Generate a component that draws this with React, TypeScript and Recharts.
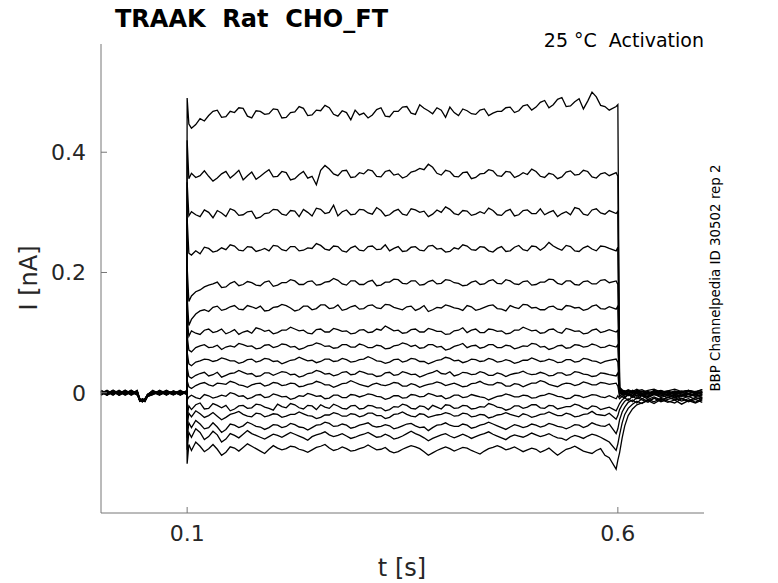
import { Line, LineChart, XAxis, YAxis } from "recharts";

// sample times (s) for each segment of the sweep
const preTimes = [0, 0.007, 0.014, 0.021, 0.028, 0.035, 0.042, 0.045, 0.048, 0.051, 0.054, 0.06, 0.068, 0.076, 0.084, 0.092, 0.0995];
const onTimes = [0.1, 0.102];
const stepTimes = [
  0.11, 0.12, 0.13, 0.14, 0.15, 0.16, 0.17, 0.18, 0.19, 0.2,
  0.21, 0.22, 0.23, 0.24, 0.25, 0.26, 0.27, 0.28, 0.29, 0.3,
  0.31, 0.32, 0.33, 0.34, 0.35, 0.36, 0.37, 0.38, 0.39, 0.4,
  0.41, 0.42, 0.43, 0.44, 0.45, 0.46, 0.47, 0.48, 0.49, 0.5,
  0.51, 0.52, 0.53, 0.54, 0.55, 0.56, 0.57, 0.58, 0.59,
];
const midTimes = [
  0.105, 0.115, 0.125, 0.135, 0.145, 0.155, 0.165, 0.175, 0.185, 0.195,
  0.205, 0.215, 0.225, 0.235, 0.245, 0.255, 0.265, 0.275, 0.285, 0.295,
  0.305, 0.315, 0.325, 0.335, 0.345, 0.355, 0.365, 0.375, 0.385, 0.395,
  0.405, 0.415, 0.425, 0.435, 0.445, 0.455, 0.465, 0.475, 0.485, 0.495,
  0.505, 0.515, 0.525, 0.535, 0.545, 0.555, 0.565, 0.575, 0.585,
];
const offTimes = [0.598, 0.6];
const postTimes = [0.602, 0.605, 0.608, 0.612, 0.617, 0.622, 0.628, 0.635, 0.642, 0.65, 0.658, 0.666, 0.674, 0.682, 0.69, 0.698];

const xTicks = [0.1, 0.6];
const yTicks = [0, 0.2, 0.4];

// current (nA) per sweep, top to bottom
const pre1 = [0.003, -0.002, 0.004, -0.001, 0.003, -0.003, 0.002, -0.011, -0.014, -0.012, -0.004, 0.002, -0.002, 0.003, -0.001, 0.002, 0.0];
const on1 = [0.49, 0.447];
const step1 = [
  0.446, 0.452, 0.468, 0.458, 0.468, 0.474, 0.46, 0.469, 0.463, 0.472,
  0.457, 0.466, 0.476, 0.461, 0.47, 0.478, 0.463, 0.469, 0.454, 0.462,
  0.457, 0.471, 0.46, 0.468, 0.475, 0.465, 0.479, 0.469, 0.474, 0.458,
  0.466, 0.472, 0.464, 0.47, 0.461, 0.468, 0.474, 0.466, 0.477, 0.47,
  0.483, 0.474, 0.488, 0.476, 0.484, 0.472, 0.5, 0.478, 0.47,
];
const mid1 = [
  0.44, 0.456, 0.461, 0.47, 0.459, 0.466, 0.473, 0.457, 0.468, 0.464,
  0.471, 0.458, 0.467, 0.473, 0.462, 0.469, 0.474, 0.46, 0.466, 0.47,
  0.465, 0.462, 0.474, 0.459, 0.468, 0.476, 0.463, 0.473, 0.464, 0.47,
  0.475, 0.461, 0.469, 0.463, 0.472, 0.465, 0.468, 0.475, 0.469, 0.479,
  0.475, 0.486, 0.479, 0.491, 0.477, 0.489, 0.485, 0.492, 0.476,
];
const off1 = [0.476, 0.479];
const post1 = [0.009, 0.005, 0.002, 0.005, 0.002, 0.006, 0.001, 0.004, 0.006, 0.001, 0.003, 0.006, 0.002, 0.004, 0.001, 0.005];

const pre2 = [-0.002, 0.003, -0.003, 0.002, -0.002, 0.004, -0.001, -0.013, -0.011, -0.014, -0.006, -0.002, 0.003, -0.002, 0.002, -0.003, 0.002];
const on2 = [0.42, 0.356];
const step2 = [
  0.358, 0.369, 0.352, 0.364, 0.357, 0.37, 0.361, 0.355, 0.366, 0.359,
  0.368, 0.354, 0.363, 0.357, 0.346, 0.378, 0.364, 0.369, 0.358, 0.366,
  0.371, 0.36, 0.368, 0.362, 0.357, 0.367, 0.373, 0.38, 0.365, 0.37,
  0.36, 0.366, 0.356, 0.364, 0.371, 0.361, 0.368, 0.358, 0.366, 0.372,
  0.36, 0.365, 0.356, 0.367, 0.362, 0.37, 0.359, 0.364, 0.361,
];
const mid2 = [
  0.365, 0.361, 0.36, 0.357, 0.368, 0.363, 0.354, 0.367, 0.36, 0.371,
  0.36, 0.366, 0.356, 0.368, 0.36, 0.37, 0.372, 0.361, 0.37, 0.359,
  0.364, 0.369, 0.359, 0.37, 0.364, 0.36, 0.369, 0.371, 0.375, 0.362,
  0.368, 0.359, 0.367, 0.358, 0.365, 0.369, 0.36, 0.367, 0.361, 0.363,
  0.368, 0.358, 0.363, 0.359, 0.369, 0.363, 0.368, 0.357, 0.366,
];
const off2 = [0.366, 0.36];
const post2 = [0.007, 0.004, 0.002, 0.004, 0.0, 0.003, 0.005, 0.0, 0.002, 0.004, -0.001, 0.003, 0.001, 0.004, 0.002, 0.005];

const pre3 = [0.001, -0.004, 0.002, -0.003, 0.004, -0.001, 0.003, -0.012, -0.015, -0.01, -0.003, 0.003, -0.003, 0.001, -0.002, 0.003, -0.002];
const on3 = [0.35, 0.294];
const step3 = [
  0.296, 0.304, 0.291, 0.299, 0.306, 0.295, 0.301, 0.29, 0.298, 0.305,
  0.297, 0.303, 0.293, 0.3, 0.307, 0.298, 0.312, 0.301, 0.296, 0.305,
  0.299, 0.308, 0.294, 0.302, 0.297, 0.306, 0.3, 0.293, 0.304, 0.309,
  0.298, 0.303, 0.295, 0.301, 0.307, 0.296, 0.302, 0.294, 0.303, 0.298,
  0.306, 0.3, 0.293, 0.301, 0.308, 0.297, 0.304, 0.299, 0.303,
];
const mid3 = [
  0.301, 0.293, 0.3, 0.303, 0.293, 0.303, 0.296, 0.302, 0.292, 0.299,
  0.304, 0.295, 0.302, 0.305, 0.294, 0.305, 0.3, 0.294, 0.304, 0.297,
  0.304, 0.297, 0.303, 0.296, 0.305, 0.295, 0.304, 0.302, 0.297, 0.3,
  0.305, 0.296, 0.302, 0.297, 0.298, 0.303, 0.295, 0.305, 0.296, 0.304,
  0.298, 0.296, 0.303, 0.298, 0.296, 0.306, 0.295, 0.306, 0.297,
];
const off3 = [0.298, 0.302];
const post3 = [0.006, 0.003, 0.001, -0.001, 0.004, 0.001, 0.002, -0.002, 0.004, 0.0, 0.003, -0.001, 0.002, 0.004, 0.0, 0.002];

const pre4 = [-0.003, 0.002, -0.001, 0.004, -0.002, 0.001, -0.003, -0.01, -0.013, -0.012, -0.005, -0.001, 0.002, -0.004, 0.003, -0.001, 0.003];
const on4 = [0.29, 0.232];
const step4 = [
  0.236, 0.242, 0.234, 0.241, 0.246, 0.237, 0.243, 0.235, 0.24, 0.245,
  0.238, 0.243, 0.236, 0.241, 0.248, 0.239, 0.244, 0.236, 0.241, 0.237,
  0.243, 0.238, 0.246, 0.24, 0.235, 0.242, 0.237, 0.244, 0.239, 0.234,
  0.241, 0.246, 0.238, 0.243, 0.236, 0.24, 0.235, 0.242, 0.238, 0.244,
  0.237, 0.25, 0.24, 0.245, 0.236, 0.241, 0.239, 0.244, 0.24,
];
const mid4 = [
  0.229, 0.231, 0.24, 0.236, 0.238, 0.244, 0.236, 0.242, 0.237, 0.236,
  0.244, 0.236, 0.243, 0.237, 0.24, 0.245, 0.237, 0.243, 0.234, 0.244,
  0.236, 0.244, 0.239, 0.236, 0.243, 0.236, 0.243, 0.236, 0.245, 0.24,
  0.235, 0.239, 0.244, 0.237, 0.242, 0.234, 0.243, 0.236, 0.245, 0.236,
  0.243, 0.242, 0.244, 0.237, 0.243, 0.235, 0.244, 0.236, 0.243,
];
const off4 = [0.236, 0.242];
const post4 = [0.005, 0.002, -0.001, 0.003, 0.0, 0.004, -0.001, 0.002, -0.002, 0.003, 0.001, -0.002, 0.003, -0.001, 0.002, 0.0];

const pre5 = [0.004, -0.001, 0.003, -0.004, 0.001, -0.002, 0.002, -0.014, -0.011, -0.013, -0.004, 0.004, -0.002, 0.002, -0.003, 0.001, -0.001];
const on5 = [0.21, 0.152];
const step5 = [
  0.168, 0.176, 0.181, 0.175, 0.182, 0.178, 0.185, 0.179, 0.184, 0.177,
  0.183, 0.188, 0.18, 0.185, 0.179, 0.184, 0.19, 0.181, 0.186, 0.18,
  0.185, 0.178, 0.184, 0.189, 0.182, 0.186, 0.179, 0.185, 0.181, 0.188,
  0.183, 0.178, 0.184, 0.18, 0.186, 0.182, 0.188, 0.181, 0.185, 0.179,
  0.184, 0.189, 0.182, 0.186, 0.18, 0.185, 0.181, 0.187, 0.183,
];
const mid5 = [
  0.161, 0.171, 0.179, 0.184, 0.176, 0.185, 0.18, 0.183, 0.178, 0.186,
  0.179, 0.183, 0.186, 0.18, 0.186, 0.18, 0.185, 0.187, 0.179, 0.186,
  0.18, 0.187, 0.179, 0.184, 0.188, 0.181, 0.186, 0.18, 0.187, 0.182,
  0.187, 0.182, 0.179, 0.186, 0.181, 0.188, 0.181, 0.186, 0.18, 0.186,
  0.18, 0.184, 0.188, 0.18, 0.186, 0.179, 0.186, 0.181, 0.188,
];
const off5 = [0.186, 0.18];
const post5 = [0.004, 0.001, 0.003, -0.002, 0.002, -0.001, 0.003, -0.002, 0.002, 0.0, -0.003, 0.002, 0.0, 0.003, -0.002, 0.002];

const pre6 = [-0.001, 0.004, -0.002, 0.001, -0.003, 0.003, -0.001, -0.012, -0.015, -0.011, -0.006, -0.003, 0.004, -0.001, 0.001, -0.002, 0.001];
const on6 = [0.16, 0.112];
const step6 = [
  0.131, 0.138, 0.142, 0.137, 0.143, 0.139, 0.145, 0.14, 0.136, 0.142,
  0.147, 0.141, 0.138, 0.144, 0.14, 0.146, 0.141, 0.137, 0.143, 0.139,
  0.145, 0.141, 0.147, 0.142, 0.138, 0.144, 0.14, 0.135, 0.142, 0.146,
  0.141, 0.137, 0.143, 0.139, 0.145, 0.14, 0.136, 0.142, 0.147, 0.141,
  0.138, 0.143, 0.139, 0.145, 0.141, 0.137, 0.144, 0.14, 0.143,
];
const mid6 = [
  0.122, 0.136, 0.135, 0.144, 0.139, 0.145, 0.138, 0.143, 0.144, 0.137,
  0.143, 0.145, 0.136, 0.144, 0.138, 0.146, 0.14, 0.146, 0.139, 0.145,
  0.14, 0.146, 0.14, 0.146, 0.14, 0.143, 0.137, 0.145, 0.138, 0.141,
  0.144, 0.14, 0.145, 0.137, 0.142, 0.146, 0.139, 0.145, 0.14, 0.146,
  0.142, 0.138, 0.144, 0.138, 0.144, 0.142, 0.139, 0.146, 0.139,
];
const off6 = [0.139, 0.144];
const post6 = [0.003, 0.0, -0.003, 0.002, -0.001, 0.003, -0.003, 0.001, -0.002, 0.003, -0.001, 0.001, -0.004, 0.002, -0.001, 0.001];

const pre7 = [0.002, -0.003, 0.001, -0.002, 0.003, -0.004, 0.001, -0.011, -0.012, -0.014, -0.003, 0.001, -0.004, 0.003, -0.002, 0.002, -0.003];
const on7 = [0.125, 0.094];
const step7 = [
  0.099, 0.104, 0.1, 0.106, 0.101, 0.097, 0.103, 0.108, 0.102, 0.098,
  0.104, 0.109, 0.103, 0.099, 0.105, 0.101, 0.107, 0.102, 0.098, 0.104,
  0.1, 0.106, 0.111, 0.103, 0.099, 0.105, 0.101, 0.107, 0.102, 0.097,
  0.103, 0.108, 0.104, 0.1, 0.106, 0.102, 0.098, 0.104, 0.109, 0.103,
  0.099, 0.105, 0.101, 0.107, 0.102, 0.098, 0.104, 0.1, 0.105,
];
const mid7 = [
  0.103, 0.097, 0.106, 0.102, 0.098, 0.105, 0.101, 0.099, 0.106, 0.104,
  0.1, 0.104, 0.106, 0.104, 0.098, 0.106, 0.101, 0.105, 0.103, 0.099,
  0.105, 0.101, 0.104, 0.107, 0.104, 0.1, 0.106, 0.101, 0.105, 0.102,
  0.098, 0.104, 0.1, 0.106, 0.1, 0.105, 0.103, 0.099, 0.104, 0.106,
  0.104, 0.1, 0.106, 0.099, 0.105, 0.103, 0.099, 0.106, 0.102,
];
const off7 = [0.101, 0.104];
const post7 = [0.002, -0.002, 0.003, -0.001, -0.004, 0.002, -0.001, -0.004, 0.001, -0.002, 0.002, -0.004, 0.0, -0.002, 0.002, -0.001];

const pre8 = [-0.004, 0.001, -0.004, 0.003, -0.001, 0.002, -0.002, -0.013, -0.014, -0.011, -0.005, -0.002, 0.001, -0.003, 0.002, -0.004, 0.002];
const on8 = [0.095, 0.071];
const step8 = [
  0.075, 0.08, 0.076, 0.072, 0.078, 0.082, 0.077, 0.073, 0.079, 0.075,
  0.081, 0.076, 0.072, 0.078, 0.083, 0.077, 0.074, 0.08, 0.076, 0.081,
  0.075, 0.079, 0.073, 0.078, 0.083, 0.077, 0.074, 0.08, 0.076, 0.071,
  0.077, 0.082, 0.078, 0.074, 0.08, 0.075, 0.079, 0.073, 0.078, 0.082,
  0.076, 0.072, 0.078, 0.074, 0.08, 0.076, 0.081, 0.075, 0.079,
];
const mid8 = [
  0.068, 0.078, 0.075, 0.079, 0.076, 0.076, 0.08, 0.078, 0.074, 0.08,
  0.077, 0.08, 0.077, 0.074, 0.079, 0.081, 0.078, 0.075, 0.08, 0.076,
  0.079, 0.075, 0.078, 0.074, 0.079, 0.081, 0.079, 0.075, 0.08, 0.077,
  0.073, 0.079, 0.075, 0.079, 0.076, 0.08, 0.075, 0.078, 0.075, 0.077,
  0.081, 0.077, 0.074, 0.079, 0.075, 0.079, 0.077, 0.079, 0.076,
];
const off8 = [0.076, 0.08];
const post8 = [0.0, -0.004, 0.001, -0.003, 0.002, -0.002, -0.005, 0.001, -0.003, -0.001, -0.005, 0.0, -0.002, -0.006, -0.001, -0.003];

const pre9 = [0.002, -0.002, 0.003, -0.001, 0.002, -0.003, 0.004, -0.01, -0.013, -0.012, -0.004, 0.002, -0.001, 0.004, -0.002, 0.001, -0.002];
const on9 = [0.068, 0.048];
const step9 = [
  0.051, 0.056, 0.052, 0.058, 0.053, 0.049, 0.055, 0.051, 0.057, 0.052,
  0.048, 0.054, 0.059, 0.053, 0.05, 0.056, 0.052, 0.057, 0.051, 0.055,
  0.06, 0.053, 0.049, 0.055, 0.051, 0.057, 0.052, 0.048, 0.054, 0.059,
  0.053, 0.05, 0.056, 0.052, 0.057, 0.051, 0.055, 0.049, 0.054, 0.058,
  0.052, 0.056, 0.05, 0.055, 0.051, 0.057, 0.053, 0.049, 0.054,
];
const mid9 = [
  0.045, 0.053, 0.055, 0.054, 0.056, 0.053, 0.051, 0.056, 0.053, 0.056,
  0.053, 0.051, 0.055, 0.056, 0.054, 0.052, 0.056, 0.053, 0.055, 0.052,
  0.056, 0.057, 0.052, 0.051, 0.056, 0.053, 0.056, 0.052, 0.051, 0.055,
  0.057, 0.054, 0.052, 0.055, 0.053, 0.055, 0.052, 0.053, 0.051, 0.054,
  0.055, 0.053, 0.054, 0.051, 0.055, 0.052, 0.056, 0.052, 0.052,
];
const off9 = [0.056, 0.051];
const post9 = [-0.002, 0.001, -0.004, -0.001, -0.005, 0.0, -0.003, -0.006, -0.001, -0.004, 0.001, -0.003, -0.006, -0.002, -0.004, 0.0];

const pre10 = [-0.001, 0.003, -0.002, 0.002, -0.004, 0.001, -0.002, -0.012, -0.011, -0.015, -0.006, -0.001, 0.003, -0.002, 0.001, -0.003, 0.001];
const on10 = [0.042, 0.027];
const step10 = [
  0.029, 0.034, 0.03, 0.026, 0.032, 0.037, 0.031, 0.027, 0.033, 0.029,
  0.035, 0.03, 0.026, 0.032, 0.037, 0.031, 0.028, 0.034, 0.03, 0.036,
  0.031, 0.027, 0.033, 0.029, 0.035, 0.03, 0.026, 0.032, 0.037, 0.031,
  0.028, 0.034, 0.03, 0.035, 0.029, 0.033, 0.027, 0.032, 0.036, 0.03,
  0.034, 0.028, 0.033, 0.029, 0.035, 0.031, 0.027, 0.033, 0.03,
];
const mid10 = [
  0.024, 0.032, 0.028, 0.034, 0.029, 0.033, 0.034, 0.032, 0.028, 0.033,
  0.032, 0.034, 0.031, 0.028, 0.033, 0.035, 0.032, 0.03, 0.035, 0.031,
  0.034, 0.031, 0.028, 0.034, 0.03, 0.033, 0.031, 0.029, 0.034, 0.032,
  0.035, 0.03, 0.033, 0.031, 0.033, 0.029, 0.031, 0.03, 0.033, 0.032,
  0.031, 0.032, 0.029, 0.033, 0.03, 0.034, 0.03, 0.028, 0.032,
];
const off10 = [0.028, 0.033];
const post10 = [-0.004, -0.007, -0.002, -0.005, -0.001, -0.006, -0.003, -0.007, -0.002, -0.004, -0.008, -0.003, -0.005, -0.002, -0.006, -0.004];

const pre11 = [0.003, -0.003, 0.001, -0.003, 0.002, -0.001, 0.003, -0.014, -0.012, -0.01, -0.003, 0.003, -0.002, 0.001, -0.004, 0.002, -0.001];
const on11 = [0.02, 0.01];
const step11 = [
  0.012, 0.017, 0.011, 0.015, 0.019, 0.013, 0.009, 0.015, 0.011, 0.017,
  0.012, 0.016, 0.01, 0.014, 0.019, 0.013, 0.009, 0.015, 0.02, 0.014,
  0.01, 0.016, 0.012, 0.017, 0.011, 0.015, 0.009, 0.014, 0.018, 0.012,
  0.016, 0.01, 0.015, 0.019, 0.013, 0.017, 0.011, 0.015, 0.01, 0.016,
  0.02, 0.014, 0.01, 0.016, 0.012, 0.018, 0.013, 0.017, 0.014,
];
const mid11 = [
  0.007, 0.015, 0.013, 0.016, 0.014, 0.017, 0.012, 0.013, 0.016, 0.013,
  0.016, 0.013, 0.015, 0.011, 0.015, 0.017, 0.013, 0.012, 0.016, 0.017,
  0.012, 0.014, 0.013, 0.014, 0.016, 0.011, 0.013, 0.012, 0.015, 0.016,
  0.014, 0.013, 0.011, 0.016, 0.015, 0.013, 0.016, 0.011, 0.014, 0.013,
  0.016, 0.018, 0.012, 0.014, 0.015, 0.014, 0.016, 0.013, 0.016,
];
const off11 = [0.016, 0.011];
const post11 = [-0.006, -0.002, -0.007, -0.003, -0.006, -0.001, -0.005, -0.008, -0.003, -0.006, -0.002, -0.007, -0.004, -0.001, -0.006, -0.003];

const pre12 = [-0.002, 0.002, -0.003, 0.003, -0.001, 0.004, -0.003, -0.011, -0.015, -0.013, -0.005, -0.002, 0.002, -0.003, 0.003, -0.001, 0.003];
const on12 = [-0.012, -0.007];
const step12 = [
  -0.008, -0.003, -0.009, -0.004, 0.0, -0.006, -0.01, -0.004, -0.008, -0.002,
  -0.007, -0.011, -0.005, -0.001, -0.006, -0.01, -0.004, -0.008, -0.003, -0.007,
  -0.002, -0.006, -0.011, -0.005, -0.009, -0.003, -0.007, -0.001, -0.006, -0.01,
  -0.004, -0.008, -0.003, -0.007, -0.012, -0.006, -0.002, -0.007, -0.004, -0.009,
  -0.005, -0.001, -0.006, -0.01, -0.004, -0.008, -0.003, -0.007, -0.005,
];
const mid12 = [
  -0.004, -0.01, -0.005, -0.007, -0.006, -0.002, -0.005, -0.008, -0.003, -0.007,
  -0.004, -0.006, -0.009, -0.006, -0.003, -0.005, -0.009, -0.004, -0.008, -0.004,
  -0.005, -0.003, -0.007, -0.009, -0.005, -0.008, -0.004, -0.006, -0.003, -0.005,
  -0.008, -0.004, -0.007, -0.005, -0.008, -0.009, -0.005, -0.004, -0.007, -0.005,
  -0.008, -0.004, -0.003, -0.007, -0.009, -0.005, -0.006, -0.004, -0.008,
];
const off12 = [-0.01, -0.005];
const post12 = [-0.01, -0.006, -0.009, -0.003, -0.008, -0.004, -0.01, -0.005, -0.002, -0.008, -0.004, -0.009, -0.005, -0.007, -0.003, -0.008];

const pre13 = [0.001, -0.001, 0.004, -0.002, 0.003, -0.002, 0.001, -0.013, -0.01, -0.012, -0.004, 0.001, -0.003, 0.002, -0.002, 0.004, -0.002];
const on13 = [-0.04, -0.022];
const step13 = [
  -0.02, -0.027, -0.018, -0.025, -0.03, -0.022, -0.026, -0.019, -0.024, -0.029,
  -0.023, -0.018, -0.025, -0.021, -0.028, -0.024, -0.019, -0.026, -0.022, -0.027,
  -0.021, -0.025, -0.03, -0.023, -0.019, -0.026, -0.022, -0.028, -0.024, -0.02,
  -0.026, -0.021, -0.027, -0.023, -0.018, -0.024, -0.029, -0.022, -0.026, -0.02,
  -0.025, -0.021, -0.027, -0.023, -0.019, -0.025, -0.022, -0.028, -0.024,
];
const mid13 = [
  -0.028, -0.017, -0.026, -0.021, -0.021, -0.027, -0.021, -0.025, -0.02, -0.026,
  -0.019, -0.025, -0.02, -0.027, -0.022, -0.02, -0.026, -0.022, -0.027, -0.021,
  -0.026, -0.022, -0.025, -0.028, -0.024, -0.021, -0.027, -0.023, -0.021, -0.027,
  -0.021, -0.025, -0.022, -0.026, -0.024, -0.02, -0.025, -0.027, -0.022, -0.024,
  -0.02, -0.026, -0.022, -0.025, -0.023, -0.021, -0.027, -0.023, -0.026,
];
const off13 = [-0.03, -0.024];
const post13 = [-0.018, -0.012, -0.008, -0.013, -0.006, -0.01, -0.005, -0.011, -0.007, -0.012, -0.008, -0.004, -0.01, -0.006, -0.011, -0.007];

const pre14 = [-0.003, 0.003, -0.001, 0.001, -0.002, 0.002, -0.004, -0.012, -0.013, -0.014, -0.006, -0.003, 0.001, -0.001, 0.002, -0.002, 0.002];
const on14 = [-0.056, -0.034];
const step14 = [
  -0.03, -0.041, -0.033, -0.045, -0.036, -0.031, -0.039, -0.034, -0.04, -0.035,
  -0.041, -0.036, -0.032, -0.038, -0.043, -0.037, -0.033, -0.039, -0.035, -0.04,
  -0.034, -0.038, -0.043, -0.036, -0.032, -0.039, -0.035, -0.041, -0.037, -0.033,
  -0.039, -0.034, -0.04, -0.036, -0.042, -0.037, -0.033, -0.038, -0.035, -0.041,
  -0.036, -0.032, -0.038, -0.034, -0.04, -0.036, -0.031, -0.037, -0.034,
];
const mid14 = [
  -0.04, -0.035, -0.038, -0.039, -0.041, -0.034, -0.036, -0.04, -0.035, -0.038,
  -0.036, -0.039, -0.036, -0.035, -0.039, -0.041, -0.037, -0.035, -0.039, -0.036,
  -0.038, -0.034, -0.038, -0.041, -0.035, -0.036, -0.04, -0.036, -0.039, -0.036,
  -0.035, -0.038, -0.035, -0.039, -0.037, -0.04, -0.036, -0.036, -0.04, -0.037,
  -0.039, -0.035, -0.035, -0.038, -0.036, -0.039, -0.035, -0.036, -0.038,
];
const off14 = [-0.044, -0.038];
const post14 = [-0.028, -0.02, -0.014, -0.01, -0.015, -0.008, -0.012, -0.016, -0.009, -0.013, -0.007, -0.012, -0.009, -0.014, -0.008, -0.011];

const pre15 = [0.002, -0.004, 0.002, -0.004, 0.001, -0.003, 0.002, -0.01, -0.014, -0.011, -0.003, 0.002, -0.002, 0.003, -0.001, 0.001, -0.001];
const on15 = [-0.075, -0.05];
const step15 = [
  -0.046, -0.06, -0.05, -0.066, -0.052, -0.058, -0.049, -0.056, -0.061, -0.053,
  -0.058, -0.051, -0.057, -0.062, -0.054, -0.049, -0.056, -0.052, -0.059, -0.054,
  -0.05, -0.057, -0.053, -0.06, -0.055, -0.051, -0.058, -0.063, -0.054, -0.05,
  -0.056, -0.052, -0.059, -0.054, -0.049, -0.055, -0.061, -0.053, -0.058, -0.052,
  -0.057, -0.051, -0.056, -0.06, -0.053, -0.058, -0.05, -0.055, -0.052,
];
const mid15 = [
  -0.058, -0.052, -0.058, -0.057, -0.061, -0.054, -0.055, -0.052, -0.057, -0.058,
  -0.054, -0.056, -0.053, -0.058, -0.058, -0.053, -0.051, -0.055, -0.054, -0.057,
  -0.052, -0.055, -0.056, -0.055, -0.058, -0.052, -0.055, -0.057, -0.058, -0.053,
  -0.054, -0.056, -0.054, -0.057, -0.052, -0.052, -0.058, -0.057, -0.055, -0.056,
  -0.054, -0.055, -0.053, -0.057, -0.057, -0.054, -0.055, -0.053, -0.056,
];
const off15 = [-0.068, -0.06];
const post15 = [-0.045, -0.032, -0.024, -0.016, -0.012, -0.017, -0.01, -0.014, -0.009, -0.015, -0.011, -0.008, -0.014, -0.01, -0.016, -0.009];

const pre16 = [-0.001, 0.002, -0.002, 0.002, -0.003, 0.001, -0.001, -0.014, -0.011, -0.013, -0.005, -0.001, 0.002, -0.002, 0.001, -0.003, 0.001];
const on16 = [-0.095, -0.066];
const step16 = [
  -0.06, -0.078, -0.064, -0.082, -0.068, -0.075, -0.063, -0.071, -0.077, -0.069,
  -0.074, -0.066, -0.072, -0.079, -0.07, -0.065, -0.073, -0.068, -0.076, -0.071,
  -0.066, -0.074, -0.069, -0.077, -0.072, -0.064, -0.071, -0.08, -0.073, -0.068,
  -0.075, -0.069, -0.076, -0.07, -0.065, -0.072, -0.078, -0.07, -0.074, -0.067,
  -0.073, -0.068, -0.075, -0.079, -0.071, -0.076, -0.069, -0.074, -0.082,
];
const mid16 = [
  -0.074, -0.066, -0.073, -0.07, -0.077, -0.071, -0.069, -0.068, -0.074, -0.073,
  -0.071, -0.07, -0.069, -0.075, -0.073, -0.068, -0.07, -0.071, -0.072, -0.074,
  -0.069, -0.07, -0.073, -0.072, -0.075, -0.068, -0.068, -0.075, -0.076, -0.07,
  -0.072, -0.072, -0.072, -0.073, -0.068, -0.069, -0.075, -0.073, -0.072, -0.071,
  -0.07, -0.071, -0.072, -0.076, -0.074, -0.073, -0.072, -0.071, -0.078,
];
const off16 = [-0.096, -0.085];
const post16 = [-0.07, -0.05, -0.036, -0.026, -0.019, -0.014, -0.018, -0.011, -0.015, -0.009, -0.014, -0.017, -0.01, -0.015, -0.011, -0.016];

const pre17 = [0.003, -0.002, 0.001, -0.001, 0.004, -0.002, 0.002, -0.011, -0.013, -0.012, -0.004, 0.003, -0.003, 0.001, -0.002, 0.002, -0.002];
const on17 = [-0.118, -0.086];
const step17 = [
  -0.082, -0.098, -0.086, -0.104, -0.09, -0.097, -0.085, -0.093, -0.101, -0.088,
  -0.095, -0.089, -0.094, -0.099, -0.091, -0.086, -0.096, -0.09, -0.097, -0.093,
  -0.087, -0.095, -0.091, -0.1, -0.094, -0.088, -0.093, -0.104, -0.096, -0.09,
  -0.097, -0.091, -0.096, -0.102, -0.093, -0.088, -0.095, -0.09, -0.098, -0.092,
  -0.099, -0.092, -0.104, -0.094, -0.089, -0.097, -0.101, -0.093, -0.108,
];
const mid17 = [
  -0.096, -0.089, -0.093, -0.094, -0.099, -0.092, -0.091, -0.089, -0.097, -0.094,
  -0.092, -0.093, -0.09, -0.096, -0.095, -0.089, -0.092, -0.094, -0.093, -0.096,
  -0.091, -0.091, -0.094, -0.097, -0.098, -0.091, -0.09, -0.098, -0.1, -0.093,
  -0.093, -0.094, -0.092, -0.099, -0.097, -0.091, -0.091, -0.093, -0.094, -0.095,
  -0.094, -0.096, -0.098, -0.099, -0.092, -0.093, -0.099, -0.096, -0.104,
];
const off17 = [-0.127, -0.112];
const post17 = [-0.1, -0.075, -0.055, -0.038, -0.027, -0.02, -0.017, -0.013, -0.018, -0.011, -0.016, -0.012, -0.019, -0.013, -0.017, -0.012];

const sweeps = [
  { pre: pre1, on: on1, step: step1, mid: mid1, off: off1, post: post1 },
  { pre: pre2, on: on2, step: step2, mid: mid2, off: off2, post: post2 },
  { pre: pre3, on: on3, step: step3, mid: mid3, off: off3, post: post3 },
  { pre: pre4, on: on4, step: step4, mid: mid4, off: off4, post: post4 },
  { pre: pre5, on: on5, step: step5, mid: mid5, off: off5, post: post5 },
  { pre: pre6, on: on6, step: step6, mid: mid6, off: off6, post: post6 },
  { pre: pre7, on: on7, step: step7, mid: mid7, off: off7, post: post7 },
  { pre: pre8, on: on8, step: step8, mid: mid8, off: off8, post: post8 },
  { pre: pre9, on: on9, step: step9, mid: mid9, off: off9, post: post9 },
  { pre: pre10, on: on10, step: step10, mid: mid10, off: off10, post: post10 },
  { pre: pre11, on: on11, step: step11, mid: mid11, off: off11, post: post11 },
  { pre: pre12, on: on12, step: step12, mid: mid12, off: off12, post: post12 },
  { pre: pre13, on: on13, step: step13, mid: mid13, off: off13, post: post13 },
  { pre: pre14, on: on14, step: step14, mid: mid14, off: off14, post: post14 },
  { pre: pre15, on: on15, step: step15, mid: mid15, off: off15, post: post15 },
  { pre: pre16, on: on16, step: step16, mid: mid16, off: off16, post: post16 },
  { pre: pre17, on: on17, step: step17, mid: mid17, off: off17, post: post17 },
];

// one row per sample time, one column per sweep
const times = [...preTimes, ...onTimes, ...stepTimes, ...midTimes, ...offTimes, ...postTimes];
const order = times.map((t, i) => i).sort((a, b) => times[a] - times[b]);
const sweepValues = sweeps.map((s) => [...s.pre, ...s.on, ...s.step, ...s.mid, ...s.off, ...s.post]);
const rows = order.map((i) => {
  const row: Record<string, number> = { t: times[i] };
  sweepValues.forEach((vals, k) => {
    row["s" + k] = vals[i];
  });
  return row;
});

const FONT = "'DejaVu Sans', sans-serif";
const AXIS = "#777";
const TEXT = "#262626";
const PLOT_LEFT = 101;
const PLOT_BOTTOM = 513;

function XTick({ x, payload }: any) {
  return (
    <g>
      <line x1={x} x2={x} y1={PLOT_BOTTOM} y2={PLOT_BOTTOM - 6} stroke={AXIS} />
      <text x={x} y={541} textAnchor="middle" fontSize={22} fill={TEXT} fontFamily={FONT}>
        {payload.value}
      </text>
    </g>
  );
}

function YTick({ y, payload }: any) {
  const v = payload.value;
  return (
    <g>
      <line x1={PLOT_LEFT} x2={PLOT_LEFT + 6} y1={y} y2={y} stroke={AXIS} />
      <text x={86} y={y + 8} textAnchor="end" fontSize={22} fill={TEXT} fontFamily={FONT}>
        {v === 0 ? "0" : v.toFixed(1)}
      </text>
    </g>
  );
}

export default function App() {
  return (
    <div style={{ position: "absolute", left: 0, top: 0, width: 778, height: 583, background: "#fff" }}>
      <LineChart width={778} height={583} data={rows} margin={{ top: 44, right: 74, bottom: 0, left: 0 }}>
        <XAxis
          dataKey="t"
          type="number"
          domain={[0, 0.7]}
          ticks={xTicks}
          height={70}
          axisLine={{ stroke: AXIS }}
          tickLine={false}
          tick={<XTick />}
        />
        <YAxis
          type="number"
          domain={[-0.2, 0.58]}
          ticks={yTicks}
          width={101}
          axisLine={{ stroke: AXIS }}
          tickLine={false}
          tick={<YTick />}
        />
        {sweepValues.map((_, k) => (
          <Line
            key={k}
            dataKey={"s" + k}
            type="linear"
            stroke="#000"
            strokeWidth={1.3}
            dot={false}
            activeDot={false}
            isAnimationActive={false}
          />
        ))}
      </LineChart>
      <svg
        width={778}
        height={583}
        style={{ position: "absolute", left: 0, top: 0, pointerEvents: "none" }}
        fontFamily={FONT}
      >
        <text x={115} y={27} fontSize={24} fontWeight="bold" fill="#000" style={{ whiteSpace: "pre" }}>
          TRAAK  Rat  CHO_FT
        </text>
        <text x={704} y={47} fontSize={19} textAnchor="end" fill="#000" style={{ whiteSpace: "pre" }}>
          25 °C  Activation
        </text>
        <text x={402} y={576} fontSize={24} textAnchor="middle" fill={TEXT}>
          t [s]
        </text>
        <text transform="translate(37,278) rotate(-90)" fontSize={24} textAnchor="middle" fill={TEXT}>
          I [nA]
        </text>
        <text transform="translate(720,278) rotate(-90)" fontSize={13.4} textAnchor="middle" fill="#000">
          BBP Channelpedia ID 30502 rep 2
        </text>
      </svg>
    </div>
  );
}
